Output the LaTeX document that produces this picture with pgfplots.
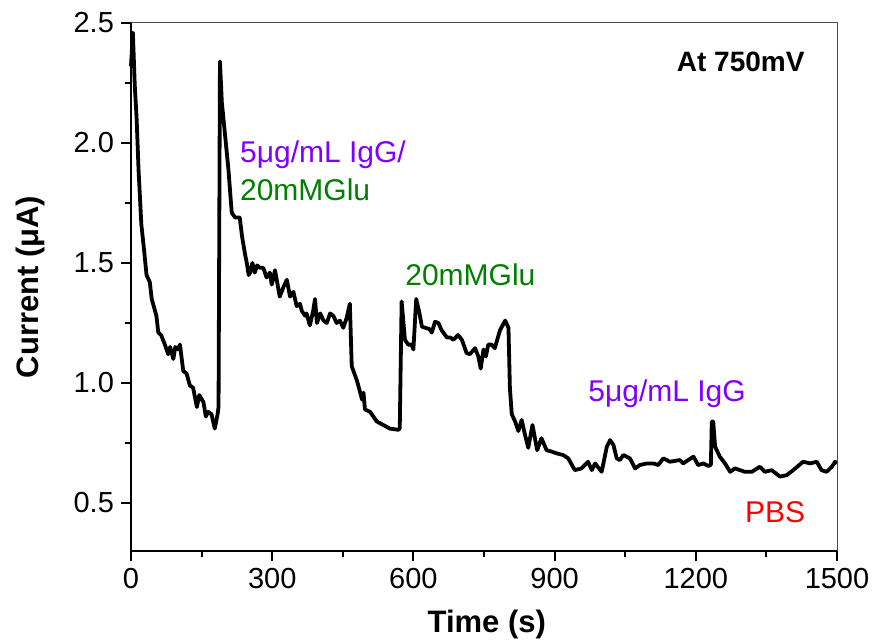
\documentclass[border=0pt]{standalone}
\usepackage{fontspec}
\setmainfont{Liberation Sans}
\usepackage{pgfplots}
\pgfplotsset{compat=1.18}
\definecolor{labViolet}{HTML}{8000FF}
\definecolor{labGreen}{HTML}{008000}
\definecolor{labRed}{HTML}{FF0000}
\begin{document}
\begin{tikzpicture}
\path[use as bounding box] (-65.5pt,-46pt) rectangle (370.5pt,275.5pt);
\begin{axis}[
  at={(0,0)}, anchor=south west,
  scale only axis, width=353pt, height=264pt,
  xmin=0, xmax=1500, ymin=0.3, ymax=2.5,
  axis lines=left,
  axis line style={-, line width=1.3pt, black},
  xtick={0,300,600,900,1200,1500},
  ytick={0.5,1,1.5,2,2.5},
  minor x tick num=1, minor y tick num=1,
  tick align=outside,
  major tick length=5pt, minor tick length=3pt,
  tick style={line width=1pt, black},
  /pgf/number format/assume math mode=true,
  yticklabel style={/pgf/number format/.cd, fixed, fixed zerofill, precision=1},
  xticklabel style={/pgf/number format/.cd, fixed, 1000 sep={}},
  tick label style={font=\fontsize{14.5}{17}\selectfont},
  xlabel={Time (s)}, ylabel={Current (μA)},
  label style={font=\fontsize{15.5}{18}\selectfont\bfseries},
  xlabel style={at={(axis description cs:0.504,-0.14)}, anchor=center},
  ylabel style={at={(axis description cs:-0.143,0.5)}, anchor=center},
  clip=false,
  after end axis/.code={
    \draw[line width=0.5pt, black!70] (rel axis cs:0,1) -- (rel axis cs:1,1) -- (rel axis cs:1,0);
  },
]
\addplot[black, line width=1.9pt, line join=round] coordinates {
  (0,2.32) (4,2.46) (8,2.24) (12,2.10) (16,1.89) (22,1.66) (28,1.55) (33,1.45)
  (40,1.42) (44,1.35) (54,1.28) (58,1.21) (64,1.20) (72,1.16) (79,1.12) (83,1.15)
  (90,1.10) (94,1.15) (99,1.14) (104,1.16) (111,1.05) (118,1.04) (125,0.99) (132,0.98)
  (140,0.90) (145,0.95) (154,0.92) (159,0.86) (164,0.88) (171,0.87) (178,0.81) (184,0.87)
  (186,0.90) (189,2.34) (193,2.17) (200,2.03) (207,1.89) (214,1.71) (221,1.69) (231,1.69)
  (236,1.61) (242,1.54) (246,1.50) (250,1.45) (253,1.46) (258,1.50) (263,1.46) (268,1.49)
  (274,1.48) (281,1.48) (288,1.44) (295,1.46) (299,1.41) (306,1.47) (316,1.36) (324,1.40)
  (331,1.43) (338,1.36) (345,1.38) (352,1.32) (359,1.33) (363,1.30) (370,1.28) (373,1.29)
  (380,1.24) (387,1.30) (391,1.35) (395,1.25) (402,1.29) (409,1.26) (416,1.25) (423,1.29)
  (430,1.28) (437,1.25) (444,1.26) (451,1.23) (458,1.27) (465,1.33) (469,1.07) (480,1.01)
  (487,0.96) (491,0.93) (494,0.96) (497,0.89) (508,0.88) (515,0.86) (522,0.84) (536,0.825)
  (550,0.81) (568,0.805) (571,0.81) (575,1.34) (582,1.18) (589,1.16) (596,1.16) (600,1.14)
  (606,1.35) (613,1.29) (618,1.235) (625,1.23) (634,1.225) (639,1.21) (646,1.255) (653,1.25)
  (660,1.22) (671,1.19) (678,1.19) (685,1.18) (695,1.20) (703,1.18) (713,1.125) (720,1.12)
  (731,1.145) (738,1.11) (743,1.06) (749,1.14) (754,1.11) (759,1.16) (766,1.16) (773,1.145)
  (784,1.22) (795,1.26) (802,1.23) (805,0.98) (809,0.87) (816,0.84) (823,0.80) (830,0.846)
  (837,0.785) (844,0.73) (853,0.825) (863,0.72) (872,0.77) (883,0.72) (894,0.714) (904,0.707)
  (918,0.70) (929,0.686) (943,0.637) (957,0.644) (971,0.672) (979,0.637) (986,0.665) (1000,0.63)
  (1011,0.735) (1018,0.762) (1025,0.742) (1032,0.686) (1039,0.679) (1046,0.70) (1060,0.686) (1071,0.644)
  (1081,0.658) (1096,0.665) (1110,0.665) (1120,0.658) (1131,0.686) (1145,0.672) (1166,0.679) (1173,0.665)
  (1184,0.679) (1195,0.693) (1205,0.658) (1216,0.665) (1227,0.654) (1232,0.66) (1234,0.84) (1237,0.84)
  (1241,0.735) (1251,0.693) (1262,0.665) (1273,0.63) (1283,0.644) (1294,0.637) (1304,0.63) (1319,0.63)
  (1336,0.651) (1347,0.63) (1361,0.637) (1379,0.61) (1393,0.616) (1407,0.637) (1428,0.672) (1443,0.665)
  (1457,0.672) (1467,0.637) (1478,0.63) (1489,0.651) (1496,0.672) (1500,0.665)
};
\node[anchor=base west, inner sep=0pt, font=\fontsize{14}{16}\selectfont\bfseries] at (axis cs:1159,2.297) {At 750mV};
\node[anchor=base west, inner sep=0pt, text=labViolet, font=\fontsize{15}{18}\selectfont] at (axis cs:231,1.917) {5μg/mL IgG/};
\node[anchor=base west, inner sep=0pt, text=labGreen, font=\fontsize{15}{18}\selectfont] at (axis cs:231,1.762) {20mMGlu};
\node[anchor=base west, inner sep=0pt, text=labGreen, font=\fontsize{15}{18}\selectfont] at (axis cs:582,1.408) {20mMGlu};
\node[anchor=base west, inner sep=0pt, text=labViolet, font=\fontsize{15}{18}\selectfont] at (axis cs:971,0.922) {5μg/mL IgG};
\node[anchor=base west, inner sep=0pt, text=labRed, font=\fontsize{15}{18}\selectfont] at (axis cs:1304,0.417) {PBS};
\end{axis}
\end{tikzpicture}
\end{document}
